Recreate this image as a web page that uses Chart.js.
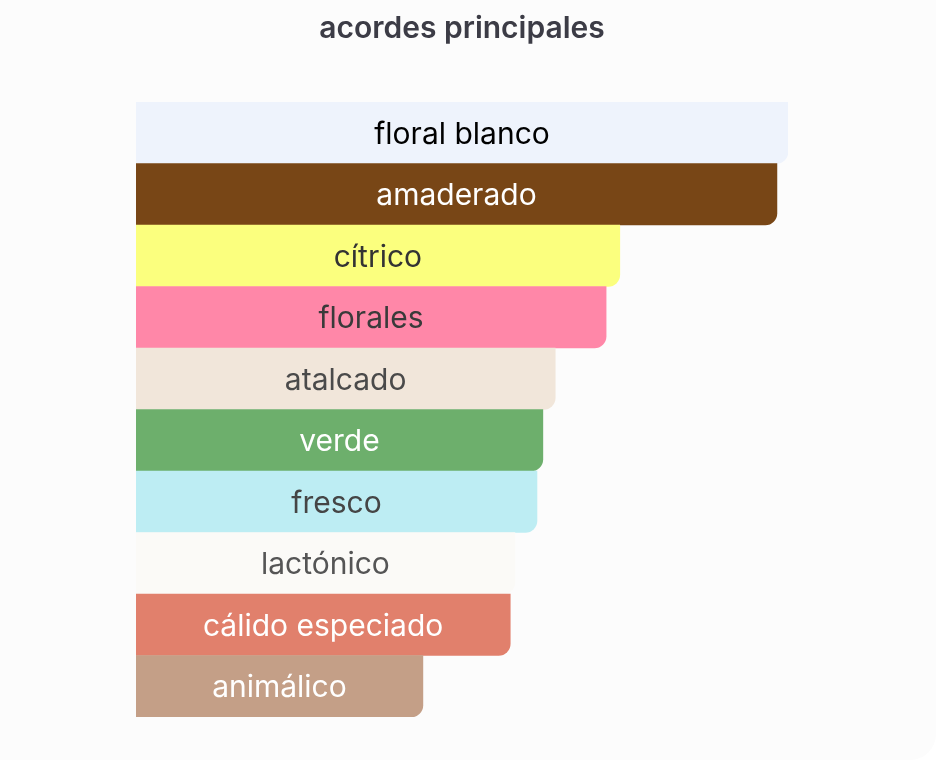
<!DOCTYPE html>
<html>
<head>
<meta charset="utf-8">
<script src="https://cdn.jsdelivr.net/npm/chart.js@4"></script>
<style>
  html, body { margin: 0; padding: 0; background: #ffffff; overflow: hidden; }
  #card {
    position: absolute; left: -40px; top: -40px;
    width: 976px; height: 800px;
    background: #fcfcfc; border-radius: 26px;
  }
  #acordes { position: absolute; left: 0; top: 0; }
</style>
</head>
<body>
<div id="card"></div>
<canvas id="acordes" width="924" height="760"></canvas>
<script>
// datos de acordes
var acordes = ['floral blanco', 'amaderado', 'cítrico', 'florales', 'atalcado',
               'verde', 'fresco', 'lactónico', 'cálido especiado', 'animálico'];
var valores = [100, 98.3, 74.2, 72.1, 64.3, 62.4, 61.5, 58.1, 57.4, 44.0];
var colores = ['#eef3fc', '#784616', '#fbff7e', '#ff87a8', '#f1e6da',
               '#6daf6c', '#bdedf3', '#fbfaf7', '#e1806c', '#c49f87'];
var coloresTexto = ['#000000', '#ffffff', '#333333', '#3a3a3a', '#4a4a4a',
                    '#ffffff', '#454545', '#555555', '#ffffff', '#ffffff'];

// etiquetas dentro de las barras
var etiquetasBarras = {
    id: 'etiquetasBarras',
    afterDatasetsDraw: function (chart) {
        var ctx = chart.ctx;
        var meta = chart.getDatasetMeta(0);
        ctx.save();
        ctx.font = '30px Inter, "Noto Sans", sans-serif';
        ctx.textAlign = 'center';
        ctx.textBaseline = 'middle';
        meta.data.forEach(function (bar, i) {
            ctx.fillStyle = coloresTexto[i];
            ctx.fillText(acordes[i], (bar.x + bar.base) / 2, bar.y + 2);
        });
        ctx.restore();
    }
};

var acordesChart = new Chart(document.getElementById('acordes').getContext('2d'), {
    type: 'bar',
    data: {
        labels: acordes,
        datasets: [{
            data: valores,
            backgroundColor: colores,
            borderWidth: 0,
            borderRadius: { topLeft: 0, topRight: 0, bottomLeft: 0, bottomRight: 12 },
            categoryPercentage: 1,
            barPercentage: 1
        }]
    },
    options: {
        indexAxis: 'y',
        responsive: false,
        animation: false,
        layout: {
            padding: { left: 136, right: 136, top: 0, bottom: 43 }
        },
        scales: {
            x: { display: false, min: 0, max: 100 },
            y: { display: false }
        },
        plugins: {
            legend: { display: false },
            tooltip: { enabled: false },
            title: {
                display: true,
                text: 'acordes principales',
                color: '#3c3c46',
                font: { family: 'Inter, "Noto Sans", sans-serif', size: 30, weight: '600' },
                padding: { top: 11, bottom: 55 }
            }
        }
    },
    plugins: [etiquetasBarras]
});
</script>
</body>
</html>
